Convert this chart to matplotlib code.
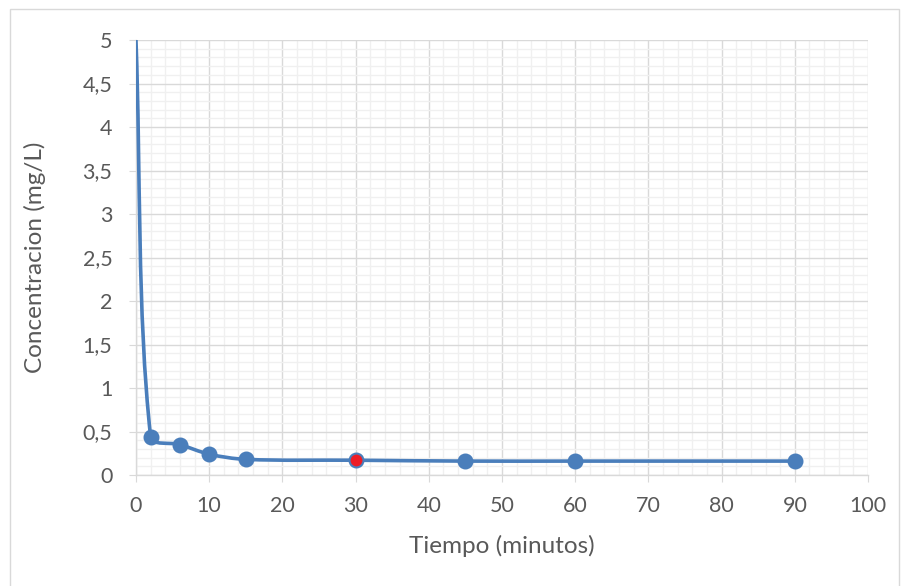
import numpy as np
import matplotlib.pyplot as plt
from matplotlib.path import Path
from matplotlib.patches import PathPatch, Rectangle
from matplotlib.ticker import MultipleLocator, FuncFormatter

# Concentration over time
tiempo = [0, 2, 6, 10, 15, 30, 45, 60, 90]
concentracion = [5.0, 0.44, 0.35, 0.24, 0.18, 0.17, 0.16, 0.16, 0.16]
destacado = 30  # highlighted sample

BLUE = "#4A7EBB"
GRAY_TXT = "#595959"

plt.rcParams['font.family'] = ['Lato', 'DejaVu Sans']


def smooth_path(ax, x, y, k=0.5):
    """Cubic Bezier path through the points, tangents weighted by segment length
    in display space so steep jumps do not overshoot."""
    pts = ax.transData.transform(np.column_stack([x, y]).astype(float))
    n = len(pts)
    tangents = []
    for i in range(n):
        p0 = pts[max(i - 1, 0)]
        p2 = pts[min(i + 1, n - 1)]
        tangents.append(p2 - p0)
    verts = [pts[0]]
    codes = [Path.MOVETO]
    for i in range(n - 1):
        p1, p2 = pts[i], pts[i + 1]
        seg = np.hypot(*(p2 - p1))
        prev = np.hypot(*(p1 - pts[max(i - 1, 0)]))
        nxt = np.hypot(*(pts[min(i + 2, n - 1)] - p2))
        t1 = tangents[i] * seg / max(seg + prev, 1e-9) * k if i > 0 else (p2 - p1) * k
        t2 = tangents[i + 1] * seg / max(seg + nxt, 1e-9) * k if i + 1 < n - 1 else (p2 - p1) * k
        verts += [p1 + t1 / 1.5, p2 - t2 / 1.5, p2]
        codes += [Path.CURVE4] * 3
    verts = ax.transData.inverted().transform(np.array(verts))
    return Path(verts, codes)


fig = plt.figure(figsize=(9.04, 5.86), dpi=100)
ax = fig.add_axes([0.1504, 0.1894, 0.8098, 0.7423])

# outer chart frame
fig.patches.append(Rectangle((0.011, -0.01), 0.983, 0.995, transform=fig.transFigure,
                             fill=False, edgecolor="#D9D9D9", linewidth=1.0))

ax.set_xlim(0, 100)
ax.set_ylim(0, 5)
ax.xaxis.set_major_locator(MultipleLocator(10))
ax.xaxis.set_minor_locator(MultipleLocator(2))
ax.yaxis.set_major_locator(MultipleLocator(0.5))
ax.yaxis.set_minor_locator(MultipleLocator(0.1))
ax.yaxis.set_major_formatter(FuncFormatter(lambda v, p: f"{v:g}".replace(".", ",")))

ax.grid(which="major", color="#D9D9D9", linewidth=1.0)
ax.grid(which="minor", color="#F0F0F0", linewidth=1.0)
ax.set_axisbelow(True)

for s in ["top", "right"]:
    ax.spines[s].set_visible(False)
for s in ["left", "bottom"]:
    ax.spines[s].set_color("#D9D9D9")
    ax.spines[s].set_linewidth(1.0)

ax.tick_params(which="major", length=5, color="#D9D9D9", labelcolor=GRAY_TXT,
               labelsize=15.5)
ax.tick_params(axis="x", pad=10)
ax.tick_params(axis="y", pad=12)
ax.tick_params(which="minor", length=0)

# smoothed curve
ax.add_patch(PathPatch(smooth_path(ax, tiempo, concentracion), fill=False,
                       edgecolor=BLUE, linewidth=2.6, capstyle="round", zorder=3))

# markers (first point has none)
for t, c in zip(tiempo[1:], concentracion[1:]):
    face = "#EE1C25" if t == destacado else BLUE
    ax.plot(t, c, "o", markersize=10, markerfacecolor=face,
            markeredgecolor=BLUE, markeredgewidth=1.5, zorder=4, clip_on=False)

ax.set_xlabel("Tiempo (minutos)", color=GRAY_TXT, fontsize=17.5, labelpad=14)
ax.set_ylabel("Concentracion (mg/L)", color=GRAY_TXT, fontsize=17.5, labelpad=26)

fig.savefig("out.png", dpi=100)
